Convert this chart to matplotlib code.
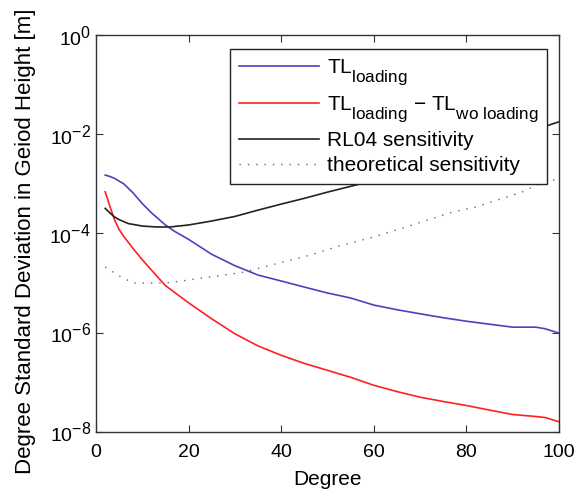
import numpy as np
import matplotlib
matplotlib.use('Agg')
import matplotlib.pyplot as plt

plt.rcParams['font.family'] = ['Liberation Sans', 'DejaVu Sans']
plt.rcParams['mathtext.fontset'] = 'custom'
plt.rcParams['mathtext.rm'] = 'Liberation Sans'
plt.rcParams['mathtext.it'] = 'Liberation Sans:italic'
plt.rcParams['mathtext.default'] = 'regular'

# bigger and lower sub/superscripts, closer to the MATLAB look
try:
    import matplotlib._mathtext as _mt
    _mt.SHRINK_FACTOR = 0.82
    _mt.FontConstantsBase.sub1 = 0.9
except Exception:
    pass

# TL loading
deg_tl = [2, 3, 4, 6, 8, 10, 12, 15, 17, 20, 25, 30, 35, 40, 45, 50, 52, 55, 60, 65, 70, 75,
          80, 85, 90, 95, 97, 100]
tl_loading = [1.5e-3, 1.41e-3, 1.29e-3, 1.0e-3, 6.6e-4, 4.0e-4, 2.6e-4, 1.48e-4, 1.1e-4, 7.6e-5,
              3.8e-5, 2.24e-5, 1.45e-5, 1.1e-5, 8.3e-6, 6.3e-6, 5.75e-6, 5.0e-6, 3.6e-6, 2.9e-6,
              2.4e-6, 2.0e-6, 1.7e-6, 1.48e-6, 1.29e-6, 1.29e-6, 1.2e-6, 9.8e-7]

# TL loading - TL wo loading
deg_diff = [2, 3, 4, 5, 6, 8, 10, 12, 15, 20, 25, 30, 35, 40, 45, 50, 55, 60, 65, 70, 75, 80,
            85, 90, 95, 97, 100]
tl_diff = [6.9e-4, 3.55e-4, 1.9e-4, 1.2e-4, 8.7e-5, 5.0e-5, 2.95e-5, 1.82e-5, 8.9e-6, 4.0e-6,
           1.9e-6, 9.5e-7, 5.4e-7, 3.5e-7, 2.4e-7, 1.74e-7, 1.26e-7, 8.7e-8, 6.5e-8, 5.0e-8,
           4.1e-8, 3.4e-8, 2.75e-8, 2.24e-8, 2.04e-8, 1.95e-8, 1.6e-8]

# RL04 sensitivity
deg_rl04 = [2, 3, 4, 5, 7, 10, 13, 16, 20, 25, 30, 35, 40, 45, 50, 55, 60, 70, 80, 90, 100]
rl04 = [3.2e-4, 2.6e-4, 2.15e-4, 1.9e-4, 1.58e-4, 1.41e-4, 1.35e-4, 1.35e-4, 1.48e-4, 1.78e-4,
        2.2e-4, 2.95e-4, 3.9e-4, 5.1e-4, 6.8e-4, 8.9e-4, 1.17e-3, 2.2e-3, 4.4e-3, 8.7e-3, 1.78e-2]

# theoretical sensitivity
deg_theo = [2, 5, 8, 15, 20, 32, 40, 46, 52, 60, 67, 77, 82, 92, 96, 100]
theo = [2.1e-5, 1.4e-5, 1.0e-5, 1.0e-5, 1.15e-5, 1.66e-5, 2.6e-5, 3.6e-5, 5.4e-5, 8.5e-5,
        1.35e-4, 2.7e-4, 3.4e-4, 6.8e-4, 1.02e-3, 1.26e-3]

fig = plt.figure(figsize=(5.78, 4.93), dpi=100)
ax = fig.add_axes([0.166, 0.124, 0.801, 0.805])

ax.plot(deg_tl, tl_loading, color='#5040c0', lw=1.2, label=r'TL$_{loading}$')
ax.plot(deg_diff, tl_diff, color='#ff2020', lw=1.2,
        label=r'TL$_{loading}$ $-$ TL$_{wo\ loading}$')
ax.plot(deg_rl04, rl04, color='#222222', lw=1.2, label='RL04 sensitivity')
ax.plot(deg_theo, theo, color='#666666', lw=1.0, ls=(0, (1, 5)), label='theoretical sensitivity')

ax.set_yscale('log')
ax.set_xlim(0, 100)
ax.set_ylim(1e-8, 1e0)
ax.set_yticks([1e-8, 1e-6, 1e-4, 1e-2, 1e0])
ax.minorticks_off()
ax.set_xticks([0, 20, 40, 60, 80, 100])
ax.tick_params(direction='in', top=True, right=True, labelsize=14, length=5, color='#333333')
ax.tick_params(axis='x', pad=9)
for s in ax.spines.values():
    s.set_color('#333333')
    s.set_linewidth(1.0)

ax.set_xlabel('Degree', fontsize=15, labelpad=6)
ax.set_ylabel('Degree Standard Deviation in Geiod Height [m]', fontsize=16)
ax.yaxis.set_label_coords(-0.13, 0.48)

leg = ax.legend(loc='upper right', bbox_to_anchor=(0.974, 0.965), fontsize=15,
                frameon=True, fancybox=False, handlelength=3.85, handletextpad=0.4,
                borderpad=0.4, labelspacing=0.3, borderaxespad=0)
leg.get_frame().set_edgecolor('#222222')
leg.get_frame().set_linewidth(1.0)
leg.get_frame().set_alpha(1)

plt.savefig('out.png', dpi=100)
